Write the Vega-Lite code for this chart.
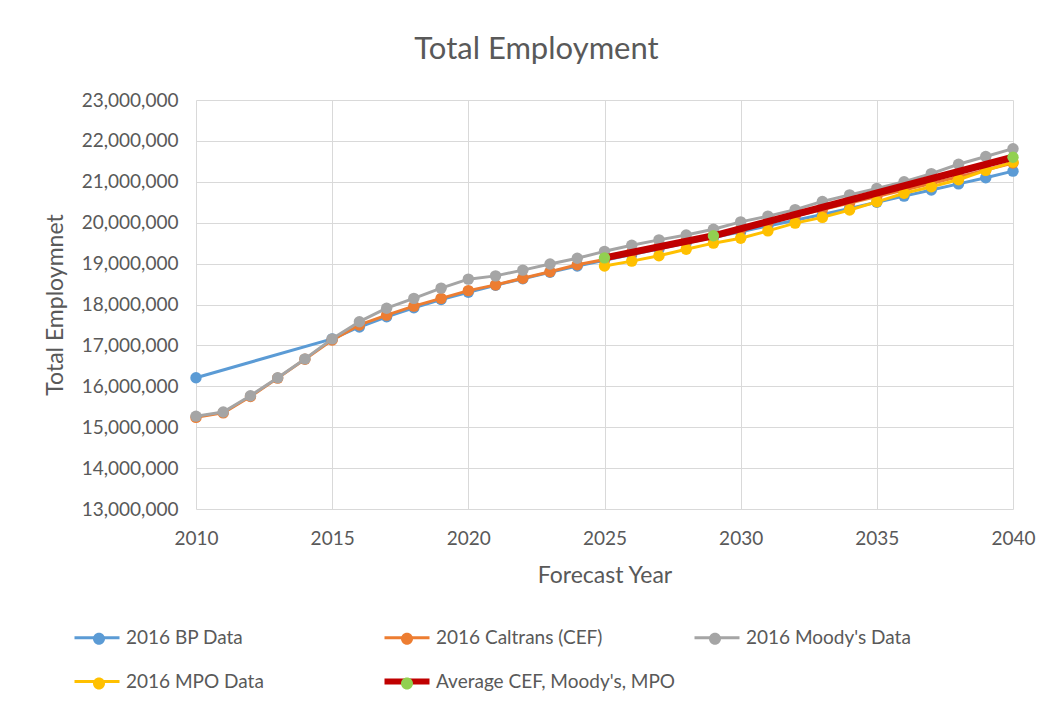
{
  "$schema": "https://vega.github.io/schema/vega-lite/v6.json",
  "width": 817,
  "height": 409,
  "autosize": {"type": "none"},
  "padding": {"left": 196, "top": 100, "right": 35, "bottom": 198},
  "background": "white",
  "title": {"text": "Total Employment", "anchor": "middle", "dx": -68, "offset": 1, "baseline": "alphabetic", "font": "Lato", "fontSize": 31, "fontWeight": "normal", "color": "#595959"},
  "config": {
    "view": {"stroke": null},
    "font": "Lato",
    "axis": {"domain": false, "ticks": false, "grid": true, "gridColor": "#D9D9D9", "gridWidth": 1, "labelFlush": false, "labelFont": "Lato", "labelFontSize": 19, "labelColor": "#595959", "titleFont": "Lato", "titleFontSize": 23, "titleFontWeight": "normal", "titleColor": "#595959"},
    "legend": {"orient": "none", "direction": "horizontal", "legendX": -108.5, "legendY": 527, "columns": 3, "gridAlign": "all", "columnPadding": 7, "rowPadding": 20, "symbolSize": 400, "labelFont": "Lato", "labelFontSize": 19, "labelColor": "#595959", "labelOffset": 19.5, "padding": 0, "title": null, "labelLimit": 400}
  },
  "data": {"values": [
    {"series": "2016 BP Data", "year": 2010, "value": 16210000},
    {"series": "2016 BP Data", "year": 2015, "value": 17160000},
    {"series": "2016 BP Data", "year": 2016, "value": 17450000},
    {"series": "2016 BP Data", "year": 2017, "value": 17700000},
    {"series": "2016 BP Data", "year": 2018, "value": 17920000},
    {"series": "2016 BP Data", "year": 2019, "value": 18120000},
    {"series": "2016 BP Data", "year": 2020, "value": 18300000},
    {"series": "2016 BP Data", "year": 2021, "value": 18470000},
    {"series": "2016 BP Data", "year": 2022, "value": 18630000},
    {"series": "2016 BP Data", "year": 2023, "value": 18790000},
    {"series": "2016 BP Data", "year": 2024, "value": 18940000},
    {"series": "2016 BP Data", "year": 2025, "value": 19080000},
    {"series": "2016 BP Data", "year": 2026, "value": 19220000},
    {"series": "2016 BP Data", "year": 2027, "value": 19360000},
    {"series": "2016 BP Data", "year": 2028, "value": 19500000},
    {"series": "2016 BP Data", "year": 2029, "value": 19640000},
    {"series": "2016 BP Data", "year": 2030, "value": 19780000},
    {"series": "2016 BP Data", "year": 2031, "value": 19920000},
    {"series": "2016 BP Data", "year": 2032, "value": 20060000},
    {"series": "2016 BP Data", "year": 2033, "value": 20200000},
    {"series": "2016 BP Data", "year": 2034, "value": 20350000},
    {"series": "2016 BP Data", "year": 2035, "value": 20500000},
    {"series": "2016 BP Data", "year": 2036, "value": 20650000},
    {"series": "2016 BP Data", "year": 2037, "value": 20800000},
    {"series": "2016 BP Data", "year": 2038, "value": 20950000},
    {"series": "2016 BP Data", "year": 2039, "value": 21100000},
    {"series": "2016 BP Data", "year": 2040, "value": 21260000},

    {"series": "2016 Caltrans (CEF)", "year": 2010, "value": 15240000},
    {"series": "2016 Caltrans (CEF)", "year": 2011, "value": 15350000},
    {"series": "2016 Caltrans (CEF)", "year": 2012, "value": 15750000},
    {"series": "2016 Caltrans (CEF)", "year": 2013, "value": 16200000},
    {"series": "2016 Caltrans (CEF)", "year": 2014, "value": 16660000},
    {"series": "2016 Caltrans (CEF)", "year": 2015, "value": 17130000},
    {"series": "2016 Caltrans (CEF)", "year": 2016, "value": 17500000},
    {"series": "2016 Caltrans (CEF)", "year": 2017, "value": 17740000},
    {"series": "2016 Caltrans (CEF)", "year": 2018, "value": 17960000},
    {"series": "2016 Caltrans (CEF)", "year": 2019, "value": 18150000},
    {"series": "2016 Caltrans (CEF)", "year": 2020, "value": 18340000},
    {"series": "2016 Caltrans (CEF)", "year": 2021, "value": 18480000},
    {"series": "2016 Caltrans (CEF)", "year": 2022, "value": 18640000},
    {"series": "2016 Caltrans (CEF)", "year": 2023, "value": 18800000},
    {"series": "2016 Caltrans (CEF)", "year": 2024, "value": 18970000},
    {"series": "2016 Caltrans (CEF)", "year": 2025, "value": 19100000},
    {"series": "2016 Caltrans (CEF)", "year": 2026, "value": 19270000},
    {"series": "2016 Caltrans (CEF)", "year": 2027, "value": 19410000},
    {"series": "2016 Caltrans (CEF)", "year": 2028, "value": 19550000},
    {"series": "2016 Caltrans (CEF)", "year": 2029, "value": 19690000},
    {"series": "2016 Caltrans (CEF)", "year": 2030, "value": 19840000},
    {"series": "2016 Caltrans (CEF)", "year": 2031, "value": 20000000},
    {"series": "2016 Caltrans (CEF)", "year": 2032, "value": 20160000},
    {"series": "2016 Caltrans (CEF)", "year": 2033, "value": 20320000},
    {"series": "2016 Caltrans (CEF)", "year": 2034, "value": 20480000},
    {"series": "2016 Caltrans (CEF)", "year": 2035, "value": 20640000},
    {"series": "2016 Caltrans (CEF)", "year": 2036, "value": 20800000},
    {"series": "2016 Caltrans (CEF)", "year": 2037, "value": 20960000},
    {"series": "2016 Caltrans (CEF)", "year": 2038, "value": 21120000},
    {"series": "2016 Caltrans (CEF)", "year": 2039, "value": 21290000},
    {"series": "2016 Caltrans (CEF)", "year": 2040, "value": 21460000},

    {"series": "2016 Moody's Data", "year": 2010, "value": 15270000},
    {"series": "2016 Moody's Data", "year": 2011, "value": 15370000},
    {"series": "2016 Moody's Data", "year": 2012, "value": 15770000},
    {"series": "2016 Moody's Data", "year": 2013, "value": 16210000},
    {"series": "2016 Moody's Data", "year": 2014, "value": 16670000},
    {"series": "2016 Moody's Data", "year": 2015, "value": 17160000},
    {"series": "2016 Moody's Data", "year": 2016, "value": 17580000},
    {"series": "2016 Moody's Data", "year": 2017, "value": 17910000},
    {"series": "2016 Moody's Data", "year": 2018, "value": 18150000},
    {"series": "2016 Moody's Data", "year": 2019, "value": 18400000},
    {"series": "2016 Moody's Data", "year": 2020, "value": 18620000},
    {"series": "2016 Moody's Data", "year": 2021, "value": 18700000},
    {"series": "2016 Moody's Data", "year": 2022, "value": 18840000},
    {"series": "2016 Moody's Data", "year": 2023, "value": 18990000},
    {"series": "2016 Moody's Data", "year": 2024, "value": 19130000},
    {"series": "2016 Moody's Data", "year": 2025, "value": 19300000},
    {"series": "2016 Moody's Data", "year": 2026, "value": 19450000},
    {"series": "2016 Moody's Data", "year": 2027, "value": 19580000},
    {"series": "2016 Moody's Data", "year": 2028, "value": 19700000},
    {"series": "2016 Moody's Data", "year": 2029, "value": 19840000},
    {"series": "2016 Moody's Data", "year": 2030, "value": 20020000},
    {"series": "2016 Moody's Data", "year": 2031, "value": 20160000},
    {"series": "2016 Moody's Data", "year": 2032, "value": 20320000},
    {"series": "2016 Moody's Data", "year": 2033, "value": 20520000},
    {"series": "2016 Moody's Data", "year": 2034, "value": 20680000},
    {"series": "2016 Moody's Data", "year": 2035, "value": 20840000},
    {"series": "2016 Moody's Data", "year": 2036, "value": 21000000},
    {"series": "2016 Moody's Data", "year": 2037, "value": 21200000},
    {"series": "2016 Moody's Data", "year": 2038, "value": 21430000},
    {"series": "2016 Moody's Data", "year": 2039, "value": 21620000},
    {"series": "2016 Moody's Data", "year": 2040, "value": 21810000},

    {"series": "2016 MPO Data", "year": 2025, "value": 18940000},
    {"series": "2016 MPO Data", "year": 2026, "value": 19060000},
    {"series": "2016 MPO Data", "year": 2027, "value": 19190000},
    {"series": "2016 MPO Data", "year": 2028, "value": 19350000},
    {"series": "2016 MPO Data", "year": 2029, "value": 19500000},
    {"series": "2016 MPO Data", "year": 2030, "value": 19620000},
    {"series": "2016 MPO Data", "year": 2031, "value": 19800000},
    {"series": "2016 MPO Data", "year": 2032, "value": 19990000},
    {"series": "2016 MPO Data", "year": 2033, "value": 20130000},
    {"series": "2016 MPO Data", "year": 2034, "value": 20310000},
    {"series": "2016 MPO Data", "year": 2035, "value": 20510000},
    {"series": "2016 MPO Data", "year": 2036, "value": 20720000},
    {"series": "2016 MPO Data", "year": 2037, "value": 20880000},
    {"series": "2016 MPO Data", "year": 2038, "value": 21050000},
    {"series": "2016 MPO Data", "year": 2039, "value": 21280000},
    {"series": "2016 MPO Data", "year": 2040, "value": 21480000},

    {"series": "Average CEF, Moody's, MPO", "year": 2025, "value": 19140000},
    {"series": "Average CEF, Moody's, MPO", "year": 2029, "value": 19680000},
    {"series": "Average CEF, Moody's, MPO", "year": 2040, "value": 21600000}
  ]},
  "encoding": {
    "x": {"field": "year", "type": "quantitative", "scale": {"domain": [2010, 2040], "nice": false, "zero": false},
      "axis": {"values": [2010, 2015, 2020, 2025, 2030, 2035, 2040], "format": "d", "labelPadding": 20, "title": "Forecast Year", "titleX": 408.5, "titleY": 55, "titleBaseline": "top"}},
    "y": {"field": "value", "type": "quantitative", "scale": {"domain": [13000000, 23000000], "nice": false, "zero": false},
      "axis": {"values": [13000000, 14000000, 15000000, 16000000, 17000000, 18000000, 19000000, 20000000, 21000000, 22000000, 23000000], "format": ",d", "labelPadding": 18, "title": "Total Employmnet", "titleX": -129, "titleY": 204.5, "titleBaseline": "bottom", "titleAngle": -90}}
  },
  "layer": [
    {"transform": [{"filter": {"field": "series", "equal": "2016 BP Data"}}],
     "mark": {"type": "line", "strokeWidth": 3, "strokeJoin": "round", "strokeCap": "round"},
     "encoding": {
       "color": {"field": "series", "type": "nominal",
         "scale": {"domain": ["2016 BP Data", "2016 Caltrans (CEF)", "2016 Moody's Data", "2016 MPO Data", "Average CEF, Moody's, MPO"], "range": ["#5B9BD5", "#ED7D31", "#A5A5A5", "#FFC000", "#C00000"]},
         "legend": {"symbolType": "M-2.25,0L2.25,0", "symbolOpacity": 1, "symbolStrokeWidth": 3,
           "encode": {"symbols": {"update": {"strokeWidth": {"signal": "datum.index === 4 ? 6 : 3"}}}}}}}},
    {"transform": [{"filter": {"field": "series", "equal": "2016 BP Data"}}],
     "mark": {"type": "point", "filled": true, "size": 130, "opacity": 1},
     "encoding": {"fill": {"field": "series", "type": "nominal",
       "sort": ["2016 BP Data", "2016 Caltrans (CEF)", "2016 Moody's Data", "2016 MPO Data", "Average CEF, Moody's, MPO"],
       "scale": {"range": ["#5B9BD5", "#ED7D31", "#A5A5A5", "#FFC000", "#92D050"]},
       "legend": {"symbolType": "M-2.25,0L2.25,0M-0.6,0A0.6,0.6 0 1,1 0.6,0A0.6,0.6 0 1,1 -0.6,0Z", "symbolStrokeWidth": 3, "symbolStrokeColor": "transparent", "symbolOpacity": 1, "labelExpr": "''", "columnPadding": 248}}}},
    {"transform": [{"filter": {"field": "series", "equal": "2016 Caltrans (CEF)"}}],
     "mark": {"type": "line", "strokeWidth": 3, "strokeJoin": "round", "strokeCap": "round"},
     "encoding": {"color": {"field": "series", "type": "nominal"}}},
    {"transform": [{"filter": {"field": "series", "equal": "2016 Caltrans (CEF)"}}],
     "mark": {"type": "point", "filled": true, "size": 130, "opacity": 1},
     "encoding": {"fill": {"field": "series", "type": "nominal", "sort": ["2016 BP Data", "2016 Caltrans (CEF)", "2016 Moody's Data", "2016 MPO Data", "Average CEF, Moody's, MPO"]}}},
    {"transform": [{"filter": {"field": "series", "equal": "2016 Moody's Data"}}],
     "mark": {"type": "line", "strokeWidth": 3, "strokeJoin": "round", "strokeCap": "round"},
     "encoding": {"color": {"field": "series", "type": "nominal"}}},
    {"transform": [{"filter": {"field": "series", "equal": "2016 Moody's Data"}}],
     "mark": {"type": "point", "filled": true, "size": 130, "opacity": 1},
     "encoding": {"fill": {"field": "series", "type": "nominal", "sort": ["2016 BP Data", "2016 Caltrans (CEF)", "2016 Moody's Data", "2016 MPO Data", "Average CEF, Moody's, MPO"]}}},
    {"transform": [{"filter": {"field": "series", "equal": "2016 MPO Data"}}],
     "mark": {"type": "line", "strokeWidth": 3, "strokeJoin": "round", "strokeCap": "round"},
     "encoding": {"color": {"field": "series", "type": "nominal"}}},
    {"transform": [{"filter": {"field": "series", "equal": "2016 MPO Data"}}],
     "mark": {"type": "point", "filled": true, "size": 130, "opacity": 1},
     "encoding": {"fill": {"field": "series", "type": "nominal", "sort": ["2016 BP Data", "2016 Caltrans (CEF)", "2016 Moody's Data", "2016 MPO Data", "Average CEF, Moody's, MPO"]}}},
    {"transform": [{"filter": {"field": "series", "equal": "Average CEF, Moody's, MPO"}}],
     "mark": {"type": "line", "strokeWidth": 7, "strokeJoin": "round", "strokeCap": "butt"},
     "encoding": {"color": {"field": "series", "type": "nominal"}}},
    {"transform": [{"filter": {"field": "series", "equal": "Average CEF, Moody's, MPO"}}],
     "mark": {"type": "point", "filled": true, "size": 130, "opacity": 1},
     "encoding": {"fill": {"field": "series", "type": "nominal", "sort": ["2016 BP Data", "2016 Caltrans (CEF)", "2016 Moody's Data", "2016 MPO Data", "Average CEF, Moody's, MPO"]}}}
  ]
}
